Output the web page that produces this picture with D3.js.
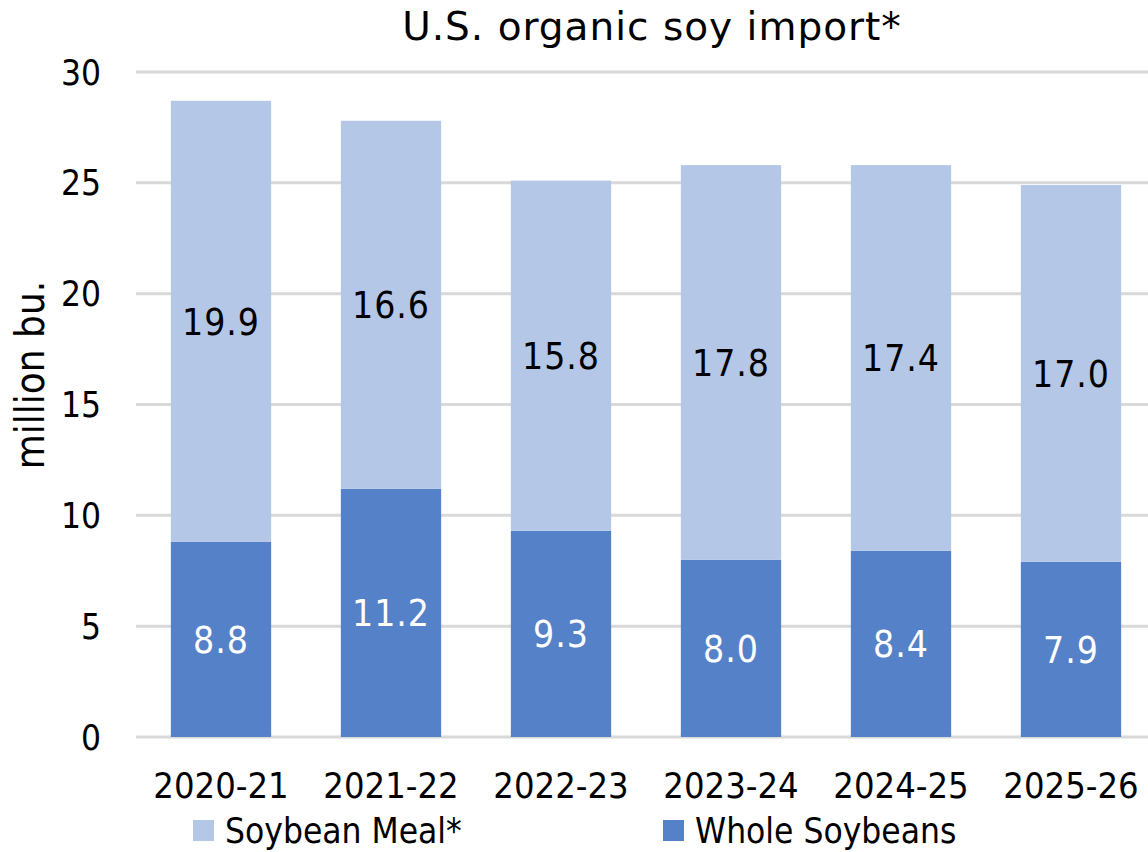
<!DOCTYPE html>
<html>
<head>
<meta charset="utf-8">
<script src="https://cdn.jsdelivr.net/npm/d3@7"></script>
<style>
	body { margin: 0; background: #fff; }
	text { font-family: "DejaVu Sans Condensed", "DejaVu Sans", sans-serif; fill: #000; }
</style>
</head>
<body>
<svg id="chart" width="1148" height="852"></svg>
<script>
const seasons = ["2020-21", "2021-22", "2022-23", "2023-24", "2024-25", "2025-26"];
const wholeSoybeans = [8.8, 11.2, 9.3, 8.0, 8.4, 7.9];
const soybeanMeal = [19.9, 16.6, 15.8, 17.8, 17.4, 17.0];
const yTicks = [0, 5, 10, 15, 20, 25, 30];
const seriesNames = ["Soybean Meal*", "Whole Soybeans"];

const colors = { whole: "#5581c8", meal: "#b4c7e7" };

const svg = d3.select("svg#chart");
const plot = { left: 136, right: 1156, top: 72, bottom: 737 };

const x = d3.scaleBand()
	.domain(seasons)
	.range([plot.left, plot.right])
	.paddingInner(0.41)
	.paddingOuter(0.205);
const y = d3.scaleLinear([0, 30], [plot.bottom, plot.top]);

// rows for stacking
const rows = seasons.map((s, i) => ({ season: s, whole: wholeSoybeans[i], meal: soybeanMeal[i] }));
const stacked = d3.stack().keys(["whole", "meal"])(rows);

// gridlines
svg.append("g")
	.selectAll("line")
	.data(yTicks)
	.join("line")
	.attr("x1", plot.left)
	.attr("x2", plot.right)
	.attr("y1", (d) => y(d))
	.attr("y2", (d) => y(d))
	.attr("stroke", "#d9d9d9")
	.attr("stroke-width", 3);

// y tick labels
svg.append("g")
	.selectAll("text")
	.data(yTicks)
	.join("text")
	.attr("x", 101)
	.attr("y", (d) => y(d))
	.attr("dy", "0.36em")
	.attr("text-anchor", "end")
	.style("font-size", "35px")
	.text((d) => d);

// bars
const layers = svg.append("g")
	.selectAll("g")
	.data(stacked)
	.join("g")
	.attr("fill", (d) => colors[d.key]);

layers.selectAll("rect")
	.data((d) => d)
	.join("rect")
	.attr("x", (d) => x(d.data.season))
	.attr("width", x.bandwidth())
	.attr("y", (d) => y(d[1]))
	.attr("height", (d) => y(d[0]) - y(d[1]));

// value labels
layers.selectAll("text")
	.data((d) => d.map((v) => ({ v, key: d.key })))
	.join("text")
	.attr("x", (d) => x(d.v.data.season) + x.bandwidth() / 2)
	.attr("y", (d) => (y(d.v[0]) + y(d.v[1])) / 2)
	.attr("dy", "0.36em")
	.attr("text-anchor", "middle")
	.style("font-size", "37px")
	.style("letter-spacing", "1px")
	.style("fill", (d) => (d.key === "whole" ? "#fff" : "#000"))
	.text((d) => d3.format(".1f")(d.v.data[d.key]));

// x tick labels
svg.append("g")
	.selectAll("text")
	.data(seasons)
	.join("text")
	.attr("x", (d) => x(d) + x.bandwidth() / 2)
	.attr("y", 798)
	.attr("text-anchor", "middle")
	.style("font-size", "36px")
	.text((d) => d);

// axis title
svg.append("text")
	.attr("transform", "translate(44,375) rotate(-90)")
	.attr("text-anchor", "middle")
	.style("font-size", "40px")
	.text("million bu.");

// chart title
svg.append("text")
	.attr("x", 652)
	.attr("y", 40)
	.attr("text-anchor", "middle")
	.style("font-family", "'DejaVu Sans', sans-serif")
	.style("font-size", "39px")
	.style("letter-spacing", "1px")
	.text("U.S. organic soy import*");

// legend
const legendItems = [
	{ name: seriesNames[0], color: colors.meal, x: 193 },
	{ name: seriesNames[1], color: colors.whole, x: 663 }
];
const legend = svg.append("g")
	.selectAll("g")
	.data(legendItems)
	.join("g")
	.attr("transform", (d) => `translate(${d.x},820)`);
legend.append("rect")
	.attr("width", 21)
	.attr("height", 21)
	.attr("fill", (d) => d.color);
legend.append("text")
	.attr("x", 32)
	.attr("y", 23)
	.style("font-size", "35px")
	.text((d) => d.name);
</script>
</body>
</html>
